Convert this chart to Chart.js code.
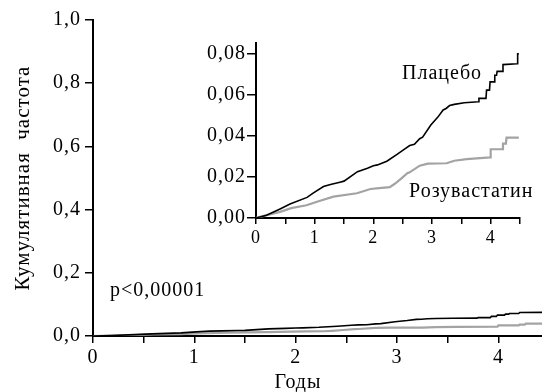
<!DOCTYPE html>
<html><head><meta charset="utf-8">
<script src="https://cdn.jsdelivr.net/npm/chart.js@4"></script>
<style>
html,body{margin:0;padding:0;background:#fff;}
#wrap{position:relative;width:542px;height:392px;overflow:hidden;}
#main{position:absolute;left:0;top:0;}
#inset{position:absolute;left:190px;top:30px;}
</style></head><body>
<div id="wrap">
<canvas id="main" width="542" height="392"></canvas>
<canvas id="inset" width="352" height="225"></canvas>
</div>
<script>
// ---- data (years, cumulative incidence) ----
const placeboT = [0, 0.18, 0.41, 0.58, 0.87, 0.98, 1.15, 1.27, 1.43, 1.50, 1.73, 1.90, 2.00, 2.07, 2.23, 2.41, 2.55, 2.62, 2.70, 2.79, 2.84, 2.98, 3.10, 3.19, 3.24, 3.30, 3.38, 3.55, 3.79, 3.80, 3.92, 3.93, 3.98, 3.99, 4.06, 4.07, 4.10, 4.11, 4.20, 4.21, 4.45, 4.46, 4.48];
const placeboV = [0, 0.0013, 0.0044, 0.0068, 0.0100, 0.0122, 0.0153, 0.0163, 0.0174, 0.0179, 0.0225, 0.0242, 0.0254, 0.0258, 0.0276, 0.0310, 0.0338, 0.0352, 0.0358, 0.0385, 0.0393, 0.0452, 0.0490, 0.0525, 0.0532, 0.0546, 0.0552, 0.0560, 0.0565, 0.0581, 0.0581, 0.0621, 0.0621, 0.0661, 0.0661, 0.0693, 0.0693, 0.0712, 0.0712, 0.0745, 0.0749, 0.0797, 0.0797];
const rosuT = [0, 0.20, 0.41, 0.60, 0.86, 1.04, 1.32, 1.72, 1.95, 2.10, 2.28, 2.36, 2.47, 2.58, 2.62, 2.79, 2.93, 3.25, 3.38, 3.59, 3.99, 4.00, 4.20, 4.21, 4.26, 4.27, 4.48];
const rosuV = [0, 0.0015, 0.0030, 0.0048, 0.0062, 0.0079, 0.0104, 0.0120, 0.0141, 0.0145, 0.0150, 0.0165, 0.0190, 0.0218, 0.0222, 0.0254, 0.0264, 0.0266, 0.0278, 0.0286, 0.0294, 0.0334, 0.0334, 0.0361, 0.0361, 0.0390, 0.0390];

const mainYTicks = [0, 0.2, 0.4, 0.6, 0.8, 1.0];
const insetYTicks = [0, 0.02, 0.04, 0.06, 0.08];
const xTickLabels = ['0', '1', '2', '3', '4'];

const seriesNames = ['Плацебо', 'Розувастатин'];
const yTitle = 'Кумулятивная  частота';
const xTitle = 'Годы';
const pText = 'p<0,00001';

const pts = (t, v) => t.map((x, i) => ({x: x, y: v[i]}));
const FONT = '"Liberation Serif", "Times New Roman", serif';
const comma = (v, d) => v.toFixed(d).replace('.', ',');

function datasets() {
  return [
    {label: seriesNames[0], data: pts(placeboT, placeboV), borderColor: '#000', borderWidth: 1.6, pointRadius: 0, tension: 0, fill: false},
    {label: seriesNames[1], data: pts(rosuT, rosuV), borderColor: '#a3a3a3', borderWidth: 2.2, pointRadius: 0, tension: 0, fill: false}
  ];
}

function xTickCb(v) {
  const r = Math.round(v);
  return Math.abs(v - r) < 1e-6 ? xTickLabels[r] : '';
}

// slightly wider lettering, like the printed figure
const spacing = {
  id: 'spacing',
  beforeDraw(chart) { if ('letterSpacing' in chart.ctx) chart.ctx.letterSpacing = '1px'; }
};

const mainText = {
  id: 'mainText',
  afterDraw(chart) {
    const ctx = chart.ctx;
    ctx.save();
    ctx.fillStyle = '#000';
    ctx.font = '20px ' + FONT;
    ctx.textBaseline = 'alphabetic';
    ctx.textAlign = 'center';
    ctx.fillText(xTitle, 298, 388);
    ctx.textAlign = 'left';
    ctx.fillText(pText, 110, 296);
    ctx.restore();
  }
};

new Chart(document.getElementById('main'), {
  type: 'line',
  data: {datasets: datasets()},
  options: {
    responsive: false, animation: false, devicePixelRatio: 1,
    layout: {padding: {top: 20, right: 0, left: 0, bottom: 0}},
    plugins: {legend: {display: false}, tooltip: {enabled: false}},
    scales: {
      x: {
        type: 'linear', min: 0, max: 4.43,
        afterFit(s) { s.height = 56; },
        border: {display: true, color: '#000', width: 2},
        grid: {display: true, drawOnChartArea: false, drawTicks: true, tickLength: 7, color: '#000', lineWidth: 1.5},
        ticks: {stepSize: 0.5, includeBounds: false, autoSkip: false, maxRotation: 0, padding: 3, color: '#000', font: {family: FONT, size: 20}, callback: xTickCb}
      },
      y: {
        type: 'linear', min: 0, max: 1.0,
        afterFit(s) { s.width = 93; },
        afterBuildTicks(s) { s.ticks = mainYTicks.map(v => ({value: v})); },
        border: {display: true, color: '#000', width: 2},
        grid: {display: true, drawOnChartArea: false, drawTicks: true, tickLength: 8, color: '#000', lineWidth: 1.5},
        ticks: {padding: 4, color: '#000', font: {family: FONT, size: 20}, callback: v => comma(v, 1)},
        title: {display: true, text: yTitle, color: '#000', font: {family: FONT, size: 21}, padding: {top: 11, bottom: 0}}
      }
    }
  },
  plugins: [spacing, mainText]
});

const insetText = {
  id: 'insetText',
  afterDraw(chart) {
    const ctx = chart.ctx;
    ctx.save();
    ctx.fillStyle = '#000';
    ctx.font = '20px ' + FONT;
    ctx.textBaseline = 'alphabetic';
    ctx.textAlign = 'left';
    ctx.fillText(seriesNames[0], 212, 49);
    ctx.fillText(seriesNames[1], 219, 167);
    ctx.restore();
  }
};

new Chart(document.getElementById('inset'), {
  type: 'line',
  data: {datasets: datasets()},
  options: {
    responsive: false, animation: false, devicePixelRatio: 1,
    layout: {padding: {top: 10, right: 22, left: 0, bottom: 0}},
    plugins: {legend: {display: false}, tooltip: {enabled: false}},
    scales: {
      x: {
        type: 'linear', min: 0, max: 4.5,
        afterFit(s) { s.height = 37; },
        border: {display: true, color: '#000', width: 2},
        grid: {display: true, drawOnChartArea: false, drawTicks: true, tickLength: 6, color: '#000', lineWidth: 1.5},
        ticks: {stepSize: 0.5, includeBounds: false, autoSkip: false, maxRotation: 0, padding: 3, color: '#000', font: {family: FONT, size: 18}, callback: xTickCb}
      },
      y: {
        type: 'linear', min: 0, max: 0.085,
        afterFit(s) { s.width = 66; },
        afterBuildTicks(s) { s.ticks = insetYTicks.map(v => ({value: v})); },
        border: {display: true, color: '#000', width: 2},
        grid: {display: true, drawOnChartArea: false, drawTicks: true, tickLength: 9, color: '#000', lineWidth: 1.5},
        ticks: {padding: 1, color: '#000', font: {family: FONT, size: 20}, callback: v => comma(v, 2)}
      }
    }
  },
  plugins: [spacing, insetText]
});
</script>
</body></html>
